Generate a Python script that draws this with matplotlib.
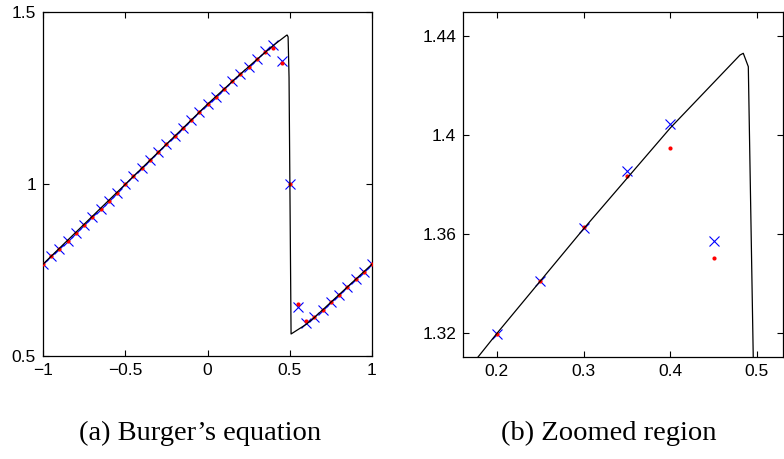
import numpy as np
import matplotlib
matplotlib.use("Agg")
import matplotlib.pyplot as plt

# reference ("exact") solution
line_x = [-1.0, -0.5, 0.0, 0.2, 0.3, 0.4, 0.4804, 0.4842, 0.490, 0.4957, 0.508, 0.6, 0.65, 1.0]
line_u = [0.767, 0.999, 1.232, 1.3197, 1.362, 1.4028, 1.4323, 1.433, 1.4276, 1.31, 0.564, 0.592, 0.612, 0.767]

# grid points
grid_x = [-1.0, -0.95, -0.9, -0.85, -0.8, -0.75, -0.7, -0.65, -0.6, -0.55,
          -0.5, -0.45, -0.4, -0.35, -0.3, -0.25, -0.2, -0.15, -0.1, -0.05,
          0.0, 0.05, 0.1, 0.15, 0.2, 0.25, 0.3, 0.35, 0.4, 0.45,
          0.5, 0.55, 0.6, 0.65, 0.7, 0.75, 0.8, 0.85, 0.9, 0.95, 1.0]
blue_u = [0.767, 0.790, 0.812, 0.835, 0.858, 0.882, 0.905, 0.928, 0.951, 0.975,
          0.999, 1.023, 1.046, 1.070, 1.092, 1.115, 1.139, 1.162, 1.185, 1.208,
          1.232, 1.254, 1.277, 1.299, 1.3197, 1.3409, 1.3622, 1.3855, 1.4044, 1.3571,
          1.0, 0.643, 0.597, 0.612, 0.635, 0.657, 0.678, 0.701, 0.723, 0.745, 0.767]
red_u = [0.767, 0.790, 0.812, 0.835, 0.858, 0.882, 0.905, 0.928, 0.951, 0.975,
         0.999, 1.023, 1.046, 1.070, 1.092, 1.115, 1.139, 1.162, 1.185, 1.208,
         1.232, 1.254, 1.277, 1.299, 1.3197, 1.3409, 1.3626, 1.3834, 1.3948, 1.3503,
         1.0, 0.651, 0.603, 0.612, 0.635, 0.657, 0.678, 0.701, 0.723, 0.745, 0.767]

plt.rcParams['font.family'] = ['Liberation Sans', 'DejaVu Sans']

fig = plt.figure(figsize=(7.84, 4.59), dpi=100)
W, H = 784.0, 459.0
ax1 = fig.add_axes([43 / W, 1 - 356 / H, (372 - 43) / W, (356 - 12) / H])
ax2 = fig.add_axes([463 / W, 1 - 357 / H, (783 - 463) / W, (357 - 12) / H])


def draw(ax):
    ax.plot(grid_x, blue_u, 'x', color=(0, 0, 1), markersize=6.5, markeredgewidth=0.8, zorder=2)
    ax.plot(grid_x, red_u, 'o', color=(1, 0, 0), markersize=3, markeredgewidth=0, zorder=3)
    ax.plot(line_x, line_u, '-', color='black', linewidth=0.9, zorder=4)
    ax.tick_params(direction='in', top=True, right=True, labelsize=12.5, length=4, width=0.8,
                   pad=5)
    for s in ax.spines.values():
        s.set_linewidth(0.9)


draw(ax1)
ax1.set_xlim(-1, 1)
ax1.set_ylim(0.5, 1.5)
ax1.set_xticks([-1, -0.5, 0, 0.5, 1])
ax1.set_xticklabels(['\u22121', '\u22120.5', '0', '0.5', '1'])
ax1.set_yticks([0.5, 1, 1.5])
ax1.set_yticklabels(['0.5', '1', '1.5'])

draw(ax2)
ax2.set_xlim(0.161, 0.53)
ax2.set_ylim(1.3102, 1.4497)
ax2.set_xticks([0.2, 0.3, 0.4, 0.5])
ax2.set_xticklabels(['0.2', '0.3', '0.4', '0.5'])
ax2.set_yticks([1.32, 1.36, 1.4, 1.44])
ax2.set_yticklabels(['1.32', '1.36', '1.4', '1.44'])

fig.text(200 / W, 1 - 433 / H, "(a) Burger\u2019s equation", family='Liberation Serif',
         fontsize=20.5, ha='center', va='center')
fig.text(609 / W, 1 - 433 / H, "(b) Zoomed region", family='Liberation Serif',
         fontsize=20.5, ha='center', va='center')

fig.savefig('out.png', dpi=100)
